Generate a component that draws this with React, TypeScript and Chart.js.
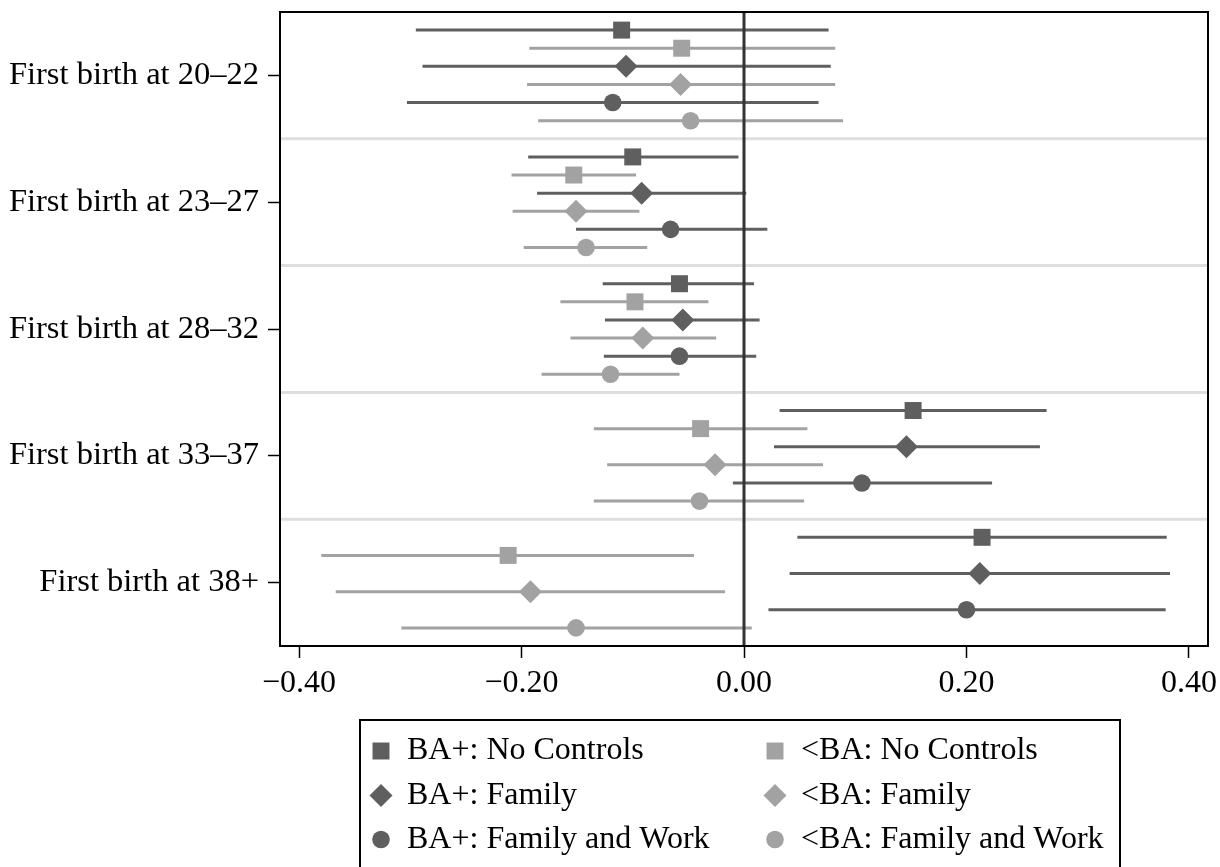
import React, { useEffect, useRef } from 'react';
import { Chart, registerables } from 'chart.js';

Chart.register(...registerables);

// ---------- data ----------
const categories = [
  'First birth at 20–22',
  'First birth at 23–27',
  'First birth at 28–32',
  'First birth at 33–37',
  'First birth at 38+',
];
const xTickValues = [-0.4, -0.2, 0, 0.2, 0.4];

const baNoCtrlEst = [-0.11, -0.1, -0.058, 0.152, 0.214];
const baNoCtrlLo = [-0.295, -0.194, -0.127, 0.032, 0.048];
const baNoCtrlHi = [0.076, -0.005, 0.009, 0.272, 0.38];

const ltNoCtrlEst = [-0.056, -0.153, -0.098, -0.039, -0.212];
const ltNoCtrlLo = [-0.193, -0.209, -0.165, -0.135, -0.38];
const ltNoCtrlHi = [0.082, -0.097, -0.032, 0.057, -0.045];

const baFamEst = [-0.106, -0.092, -0.055, 0.146, 0.212];
const baFamLo = [-0.289, -0.186, -0.125, 0.027, 0.041];
const baFamHi = [0.078, 0.002, 0.014, 0.266, 0.383];

const ltFamEst = [-0.057, -0.151, -0.091, -0.026, -0.192];
const ltFamLo = [-0.195, -0.208, -0.156, -0.123, -0.367];
const ltFamHi = [0.082, -0.094, -0.025, 0.071, -0.017];

const baFamWorkEst = [-0.118, -0.066, -0.058, 0.106, 0.2];
const baFamWorkLo = [-0.303, -0.151, -0.126, -0.01, 0.022];
const baFamWorkHi = [0.067, 0.021, 0.011, 0.223, 0.379];

const ltFamWorkEst = [-0.048, -0.142, -0.12, -0.04, -0.151];
const ltFamWorkLo = [-0.185, -0.198, -0.182, -0.135, -0.308];
const ltFamWorkHi = [0.089, -0.087, -0.058, 0.054, 0.007];

// ---------- styling ----------
const DARK = '#5f5f5f';
const LIGHT = '#a2a2a2';
const FONT = '"Liberation Serif", "Times New Roman", serif';
const GROUP_SPAN = 7; // 6 rows + 1 separator unit

const series = [
  { label: 'BA+: No Controls', est: baNoCtrlEst, lo: baNoCtrlLo, hi: baNoCtrlHi, color: DARK, style: 'rect', radius: 12 },
  { label: '<BA: No Controls', est: ltNoCtrlEst, lo: ltNoCtrlLo, hi: ltNoCtrlHi, color: LIGHT, style: 'rect', radius: 12 },
  { label: 'BA+: Family', est: baFamEst, lo: baFamLo, hi: baFamHi, color: DARK, style: 'rectRot', radius: 11.5 },
  { label: '<BA: Family', est: ltFamEst, lo: ltFamLo, hi: ltFamHi, color: LIGHT, style: 'rectRot', radius: 11.5 },
  { label: 'BA+: Family and Work', est: baFamWorkEst, lo: baFamWorkLo, hi: baFamWorkHi, color: DARK, style: 'circle', radius: 8.8 },
  { label: '<BA: Family and Work', est: ltFamWorkEst, lo: ltFamWorkLo, hi: ltFamWorkHi, color: LIGHT, style: 'circle', radius: 8.8 },
];

const rowPos = (g: number, s: number) => g * GROUP_SPAN + s + 1;

function buildDatasets() {
  const ds: any[] = [];
  series.forEach((s, si) => {
    const ci: any[] = [];
    s.lo.forEach((lo, g) => {
      ci.push({ x: lo, y: rowPos(g, si) });
      ci.push({ x: s.hi[g], y: rowPos(g, si) });
      ci.push({ x: null, y: null });
    });
    ds.push({
      label: s.label + ' CI',
      data: ci,
      showLine: true,
      spanGaps: false,
      borderColor: s.color,
      borderWidth: 3,
      pointRadius: 0,
      pointHoverRadius: 0,
      order: 2,
    });
  });
  series.forEach((s, si) => {
    ds.push({
      label: s.label,
      data: s.est.map((v, g) => ({ x: v, y: rowPos(g, si) })),
      showLine: false,
      pointStyle: s.style,
      pointRadius: s.radius,
      pointHoverRadius: s.radius,
      pointBackgroundColor: s.color,
      pointBorderWidth: 0,
      pointBorderColor: s.color,
      order: 1,
    });
  });
  return ds;
}

function drawMarker(ctx: CanvasRenderingContext2D, style: string, x: number, y: number, r: number, color: string) {
  ctx.fillStyle = color;
  ctx.beginPath();
  if (style === 'rect') {
    const h = r * Math.SQRT1_2;
    ctx.rect(x - h, y - h, 2 * h, 2 * h);
  } else if (style === 'rectRot') {
    ctx.moveTo(x, y - r);
    ctx.lineTo(x + r, y);
    ctx.lineTo(x, y + r);
    ctx.lineTo(x - r, y);
    ctx.closePath();
  } else {
    ctx.arc(x, y, r, 0, Math.PI * 2);
  }
  ctx.fill();
}

const decorPlugin = {
  id: 'decor',
  beforeDatasetsDraw(chart: any) {
    const { ctx, chartArea } = chart;
    const yScale = chart.scales.y;
    ctx.save();
    ctx.strokeStyle = '#dedede';
    ctx.lineWidth = 3;
    for (let g = 1; g < categories.length; g++) {
      const y = yScale.getPixelForValue(g * GROUP_SPAN);
      ctx.beginPath();
      ctx.moveTo(chartArea.left, y);
      ctx.lineTo(chartArea.right, y);
      ctx.stroke();
    }
    ctx.restore();
  },
  afterDatasetsDraw(chart: any) {
    const { ctx, chartArea } = chart;
    const xScale = chart.scales.x;
    ctx.save();
    const x0 = xScale.getPixelForValue(0);
    ctx.strokeStyle = '#333333';
    ctx.lineWidth = 3;
    ctx.beginPath();
    ctx.moveTo(x0, chartArea.top);
    ctx.lineTo(x0, chartArea.bottom);
    ctx.stroke();
    ctx.strokeStyle = '#000';
    ctx.lineWidth = 2;
    ctx.strokeRect(chartArea.left, chartArea.top, chartArea.right - chartArea.left, chartArea.bottom - chartArea.top);
    ctx.restore();
  },
  afterDraw(chart: any) {
    const ctx = chart.ctx as CanvasRenderingContext2D;
    ctx.save();
    ctx.strokeStyle = '#000';
    ctx.lineWidth = 2;
    ctx.strokeRect(360, 720, 760, 148);
    const colX = [381, 775];
    const rowY = [751, 795.5, 839.5];
    ctx.font = `32px ${FONT}`;
    ctx.textBaseline = 'middle';
    ctx.textAlign = 'left';
    series.forEach((s, i) => {
      const r = Math.floor(i / 2);
      const c = i % 2;
      drawMarker(ctx, s.style, colX[c], rowY[r], s.radius, s.color);
      ctx.fillStyle = '#000';
      ctx.fillText(s.label, colX[c] + 26, rowY[r]);
    });
    ctx.restore();
  },
};

const fmtX = (v: number) => {
  const a = Math.abs(v).toFixed(2);
  return v < -1e-9 ? '\u2212' + a : a;
};

export default function App() {
  const ref = useRef<HTMLCanvasElement | null>(null);
  useEffect(() => {
    document.body.style.margin = '0';
    if (!ref.current) return;
    const chart = new Chart(ref.current, {
      type: 'scatter',
      data: { datasets: buildDatasets() },
      options: {
        animation: false,
        responsive: false,
        layout: { padding: { top: 12, right: 12, left: 0, bottom: 0 } },
        plugins: {
          legend: { display: false },
          tooltip: { enabled: false },
        },
        scales: {
          x: {
            type: 'linear',
            position: 'bottom',
            min: -0.4171,
            max: 0.4171,
            afterBuildTicks: (s: any) => {
              s.ticks = xTickValues.map((v) => ({ value: v }));
            },
            afterFit: (s: any) => {
              s.height = 221;
              s.paddingLeft = 0;
              s.paddingRight = 0;
            },
            ticks: {
              callback: (v: any) => fmtX(Number(v)),
              font: { family: FONT, size: 32 },
              color: '#000',
              padding: 6,
              maxRotation: 0,
              autoSkip: false,
            },
            grid: {
              display: true,
              drawOnChartArea: false,
              drawTicks: true,
              tickLength: 12,
              tickColor: '#000',
              tickWidth: 1.5,
            },
            border: { display: false },
          },
          y: {
            type: 'linear',
            reverse: true,
            min: 0,
            max: categories.length * GROUP_SPAN,
            afterBuildTicks: (s: any) => {
              s.ticks = categories.map((_, g) => ({ value: g * GROUP_SPAN + 3.5 }));
            },
            afterFit: (s: any) => {
              s.width = 280;
              s.paddingTop = 0;
              s.paddingBottom = 0;
            },
            ticks: {
              callback: (_v: any, i: number) => categories[i],
              font: { family: FONT, size: 32.5 },
              color: '#000',
              padding: 9,
              autoSkip: false,
            },
            grid: {
              display: true,
              drawOnChartArea: false,
              drawTicks: true,
              tickLength: 12,
              tickColor: '#000',
              tickWidth: 1.5,
            },
            border: { display: false },
          },
        },
      },
      plugins: [decorPlugin],
    });
    return () => chart.destroy();
  }, []);
  return (
    <div style={{ width: 1220, height: 867, position: 'relative' }}>
      <canvas ref={ref} width={1220} height={867} style={{ display: 'block' }} />
    </div>
  );
}
